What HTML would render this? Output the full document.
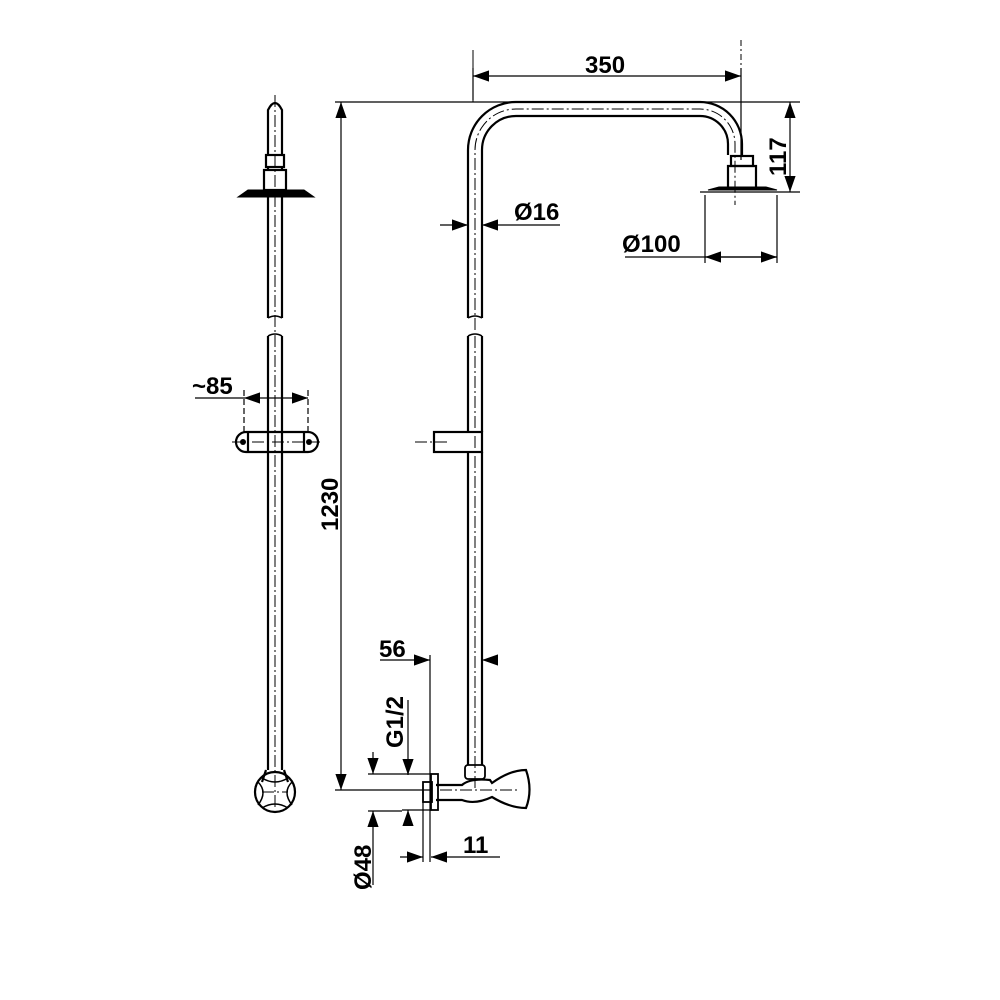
<!DOCTYPE html>
<html><head><style>body{margin:0;background:#fff}svg{display:block}text{font-family:"Liberation Sans",sans-serif;font-weight:bold;font-size:24px;fill:#000}</style></head>
<body>
<svg width="1000" height="1000" viewBox="0 0 1000 1000" xmlns="http://www.w3.org/2000/svg">
<defs>
<marker id="a" viewBox="0 0 10 10" refX="10" refY="5" markerWidth="16" markerHeight="16" markerUnits="userSpaceOnUse" orient="auto-start-reverse"><path d="M0,1.5 L10,5 L0,8.5z" fill="#000"/></marker>
</defs>
<g stroke="#000" fill="none" stroke-width="1.2">
<!-- 350 -->
<line x1="473" y1="68" x2="473" y2="100"/><line x1="741" y1="68" x2="741" y2="160"/>
<line x1="473" y1="76" x2="741" y2="76" marker-start="url(#a)" marker-end="url(#a)"/>
<!-- 1230 -->
<line x1="335" y1="102" x2="800" y2="102"/><line x1="335" y1="790" x2="430" y2="790"/>
<line x1="341" y1="102" x2="341" y2="790" marker-start="url(#a)" marker-end="url(#a)"/>
<!-- 117 -->
<line x1="700" y1="192" x2="800" y2="192"/>
<line x1="790" y1="102" x2="790" y2="192" marker-start="url(#a)" marker-end="url(#a)"/>
<!-- Ø16 -->
<line x1="440" y1="225" x2="468" y2="225" marker-end="url(#a)"/>
<line x1="560" y1="225" x2="482" y2="225" marker-end="url(#a)"/>
<!-- Ø100 -->
<line x1="705" y1="195" x2="705" y2="263"/><line x1="777" y1="195" x2="777" y2="263"/>
<line x1="625" y1="257" x2="777" y2="257"/>
<line x1="741" y1="257" x2="705" y2="257" marker-end="url(#a)"/>
<line x1="741" y1="257" x2="777" y2="257" marker-end="url(#a)"/>
<!-- ~85 -->
<line x1="244" y1="390" x2="244" y2="450" stroke-dasharray="6,3"/><line x1="308" y1="390" x2="308" y2="450" stroke-dasharray="6,3"/>
<line x1="195" y1="398" x2="244" y2="398"/>
<line x1="276" y1="398" x2="244" y2="398" marker-end="url(#a)"/>
<line x1="276" y1="398" x2="308" y2="398" marker-end="url(#a)"/>
<!-- 56 -->
<line x1="430" y1="655" x2="430" y2="862"/>
<line x1="380" y1="660" x2="430" y2="660" marker-end="url(#a)"/>
<line x1="498" y1="660" x2="482" y2="660" marker-end="url(#a)"/>
<!-- G1/2 -->
<line x1="408" y1="700" x2="408" y2="775" marker-end="url(#a)"/>
<line x1="408" y1="822" x2="408" y2="810" marker-end="url(#a)"/>
<line x1="402" y1="774" x2="432" y2="774"/><line x1="402" y1="810" x2="432" y2="810"/>
<!-- Ø48 -->
<line x1="373" y1="752" x2="373" y2="774" marker-end="url(#a)"/>
<line x1="373" y1="885" x2="373" y2="811" marker-end="url(#a)"/>
<line x1="368" y1="774" x2="402" y2="774"/><line x1="368" y1="811" x2="402" y2="811"/>
<line x1="423" y1="785" x2="423" y2="862"/>
<!-- 11 -->
<line x1="400" y1="857" x2="423" y2="857" marker-end="url(#a)"/>
<line x1="500" y1="857" x2="431" y2="857" marker-end="url(#a)"/>
</g>
<!-- right pipe -->
<g stroke="#000" fill="none" stroke-width="2.2">
<path d="M468,318 V150 A48,48 0 0 1 516,102 H700 A42,42 0 0 1 742,144 L742,155"/>
<path d="M482,318 V150 A34,34 0 0 1 516,116 H700 A28,28 0 0 1 728,144 L728,155"/>
<path d="M468,336 V432 M482,336 V432 M468,452 V765 M482,452 V765"/>
<path d="M468,318 q7,-4 14,0 M468,336 q7,-4 14,0" stroke-width="1.5"/>
<rect x="434" y="432" width="48" height="20" fill="#fff"/>
<rect x="731" y="156" width="22" height="10"/><rect x="728" y="166" width="28" height="22"/>
<path d="M708,190 L719,187 H766 L777,190 Z" fill="#000" stroke-width="1"/>
<!-- valve -->
<rect x="465" y="765" width="20" height="14" rx="3" stroke-width="1.8"/>
<path d="M436,785 H462 Q470,778 490,780 L492,783 Q510,770 526,770 Q533,790 526,808 Q510,808 492,797 Q475,805 462,800 H436"/>
<rect x="431" y="774" width="7" height="36" stroke-width="1.8"/>
<rect x="423" y="782" width="9" height="20" stroke-width="1.8"/>
</g>
<g stroke="#000" fill="none" stroke-width="1" stroke-dasharray="12,3,2,3">
<path d="M475,330 V150 A41,41 0 0 1 516,109 H700 A35,35 0 0 1 735,144 V205"/>
<path d="M475,336 V790 M415,442 H450 M440,790 H520"/>
<line x1="473" y1="50" x2="473" y2="102" stroke-dasharray="none"/>
<line x1="741" y1="40" x2="741" y2="76" stroke-dasharray="6,3,2,3"/>
</g>
<!-- left view -->
<g stroke="#000" fill="none" stroke-width="2.2">
<path d="M268,318 V110 Q275,96 282,110 V318"/>
<path d="M268,336 V770 M282,336 V770"/>
<path d="M268,318 q7,-4 14,0 M268,336 q7,-4 14,0" stroke-width="1.5"/>
<rect x="266" y="155" width="18" height="12" fill="#fff"/>
<rect x="264" y="170" width="22" height="20" fill="#fff"/>
<path d="M238,197 L248,190 H304 L314,197 Z" fill="#000" stroke-width="1"/>
<rect x="236" y="432" width="82" height="20" rx="10" fill="#fff"/>
<path d="M248,432 V452 M304,432 V452 M268,432 V452 M282,432 V452"/>
<circle cx="275" cy="792" r="20" fill="#fff"/>
<path d="M266,770 L262,782 M284,770 L288,782"/>
<path d="M258,782 Q268,792 258,805 M292,782 Q282,792 292,805 M262,778 Q275,786 288,778 M262,808 Q275,800 288,808" stroke-width="1.5"/>
</g>
<circle cx="243" cy="442" r="3" fill="#000"/><circle cx="309" cy="442" r="3" fill="#000"/>
<g stroke="#000" stroke-width="1" stroke-dasharray="12,3,2,3">
<path d="M275,95 V810 M232,442 H320 M262,792 H288"/>
</g>
<text x="585" y="73">350</text>
<text x="514" y="220">Ø16</text>
<text x="622" y="252">Ø100</text>
<text x="192" y="394">~85</text>
<text x="379" y="657">56</text>
<text x="463" y="853">11</text>
<text transform="translate(338,531) rotate(-90)">1230</text>
<text transform="translate(786,176) rotate(-90)">117</text>
<text transform="translate(403,748) rotate(-90)">G1/2</text>
<text transform="translate(371,890) rotate(-90)">Ø48</text>
</svg>
</body></html>
